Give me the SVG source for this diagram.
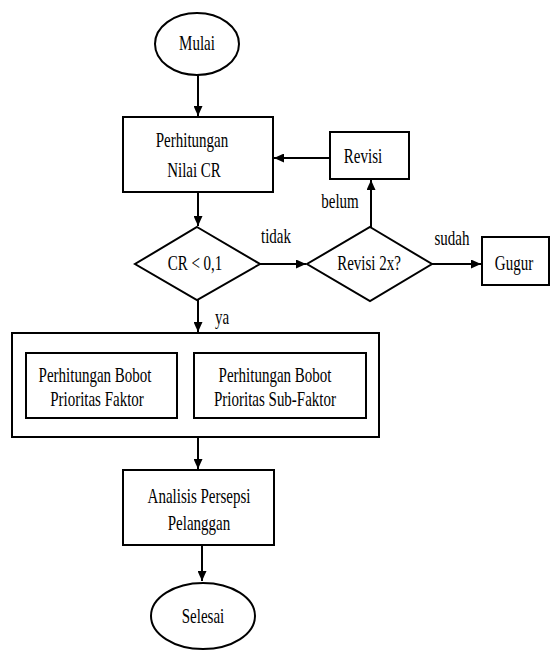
<svg xmlns="http://www.w3.org/2000/svg" width="553" height="650" viewBox="0 0 553 650">
<style>
.s{fill:#fff;stroke:#000;stroke-width:2}
.c{fill:none;stroke:#000;stroke-width:2}
text{font-family:"Liberation Serif","Times New Roman",serif;font-size:15px;fill:#000;text-anchor:middle}
.l{text-anchor:start}
</style>
<defs>
<marker id="ah" markerWidth="10" markerHeight="9" refX="10" refY="4.5" orient="auto" markerUnits="userSpaceOnUse">
<path d="M0,0 L10,4.5 L0,9 Z" fill="#000"/>
</marker>
</defs>
<rect width="553" height="650" fill="#fff"/>
<g id="connectors">
<line class="c" x1="198" y1="75" x2="198" y2="116" marker-end="url(#ah)"/>
<line class="c" x1="330" y1="158" x2="274" y2="158" marker-end="url(#ah)"/>
<line class="c" x1="198" y1="192" x2="198" y2="226" marker-end="url(#ah)"/>
<line class="c" x1="260" y1="264" x2="306" y2="264" marker-end="url(#ah)"/>
<line class="c" x1="371" y1="227" x2="371" y2="180" marker-end="url(#ah)"/>
<line class="c" x1="432" y1="264" x2="481" y2="264" marker-end="url(#ah)"/>
<line class="c" x1="198" y1="300" x2="198" y2="332" marker-end="url(#ah)"/>
<line class="c" x1="198" y1="437" x2="198" y2="469" marker-end="url(#ah)"/>
<line class="c" x1="202" y1="545" x2="202" y2="581" marker-end="url(#ah)"/>
<text transform="translate(276,243) scale(1,1.4)">tidak</text>
<text transform="translate(340,208) scale(1,1.4)">belum</text>
<text transform="translate(452,245) scale(1,1.4)">sudah</text>
<text class="l" transform="translate(215,324) scale(1,1.4)">ya</text>
</g>
<g id="mulai">
<ellipse class="s" cx="197" cy="44" rx="42" ry="31"/>
<text transform="translate(197,50) scale(1,1.4)">Mulai</text>
</g>
<g id="perhitungan-cr">
<rect class="s" x="123" y="117" width="150" height="75"/>
<text transform="translate(192,147) scale(1,1.4)">Perhitungan</text>
<text transform="translate(194,177) scale(1,1.4)">Nilai CR</text>
</g>
<g id="revisi">
<rect class="s" x="330" y="132" width="79" height="47"/>
<text transform="translate(363,163) scale(1,1.4)">Revisi</text>
</g>
<g id="cr-check">
<polygon class="s" points="197,227 260,264 197,300 135,264"/>
<text transform="translate(195,270) scale(1,1.4)">CR &lt; 0,1</text>
</g>
<g id="revisi-2x">
<polygon class="s" points="370,227 432,264 370,301 307,264"/>
<text transform="translate(369,270) scale(1,1.4)">Revisi 2x?</text>
</g>
<g id="gugur">
<rect class="s" x="482" y="237" width="67" height="48"/>
<text transform="translate(514,270) scale(1,1.4)">Gugur</text>
</g>
<g id="bobot-group">
<rect class="s" x="12" y="333" width="367" height="104"/>
<g id="bobot-faktor">
<rect class="s" x="26" y="353" width="151" height="65"/>
<text transform="translate(95,382) scale(1,1.4)">Perhitungan Bobot</text>
<text transform="translate(97,406) scale(1,1.4)">Prioritas Faktor</text>
</g>
<g id="bobot-subfaktor">
<rect class="s" x="194" y="353" width="172" height="65"/>
<text transform="translate(275,382) scale(1,1.4)">Perhitungan Bobot</text>
<text transform="translate(275,406) scale(1,1.4)">Prioritas Sub-Faktor</text>
</g>
</g>
<g id="analisis">
<rect class="s" x="123" y="470" width="151" height="75"/>
<text transform="translate(199,503) scale(1,1.4)">Analisis Persepsi</text>
<text transform="translate(199,530) scale(1,1.4)">Pelanggan</text>
</g>
<g id="selesai">
<ellipse class="s" cx="203" cy="616" rx="52" ry="33"/>
<text transform="translate(203,623) scale(1,1.4)">Selesai</text>
</g>
</svg>
